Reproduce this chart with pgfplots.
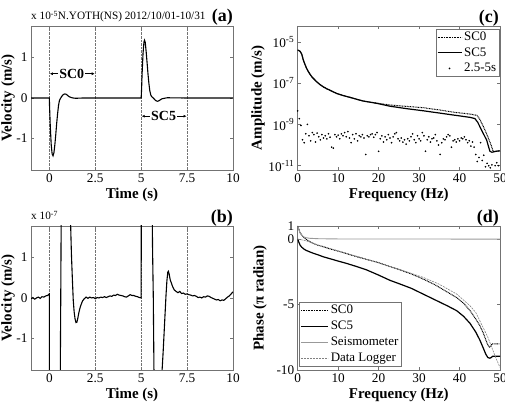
\documentclass[border=0pt]{standalone}
\usepackage{fontspec}
\setmainfont{Liberation Serif}
\usepackage{pgfplots}
\pgfplotsset{compat=1.18}
\usepackage{pgfplotstable}
\usetikzlibrary{arrows.meta}

% Velocity record, in units of 1e-7 m/s
\pgfplotstableread{
t v
-1.0 -0.02
-0.9 0.01
-0.8 -0.03
-0.7 0.0
-0.6 0.02
-0.5 -0.01
-0.4 0.03
-0.3 0.02
-0.2 0.05
-0.1 0.06
-0.05 0.08
0.0 0.1
0.01 -20
0.05 -70
0.1 -115
0.15 -138
0.2 -143
0.25 -135
0.3 -115
0.35 -90
0.4 -62
0.45 -38
0.5 -18
0.55 -6
0.6 -1.5
0.62 0
0.65 2.5
0.7 5.5
0.75 8
0.8 9.5
0.85 10
0.9 9.5
0.95 8
1.0 6
1.05 4.2
1.1 2.8
1.16 1.78
1.2 1.1
1.25 0.5
1.3 -0.05
1.35 -0.35
1.4 -0.52
1.45 -0.61
1.5 -0.6
1.55 -0.5
1.6 -0.38
1.65 -0.28
1.7 -0.2
1.8 -0.08
1.9 -0.02
2.0 0.02
2.1 -0.01
2.2 0.02
2.3 0.0
2.4 0.01
2.5 -0.02
2.6 0.01
2.7 0.0
2.8 0.02
2.9 0.01
3.0 0.03
3.1 0.01
3.2 0.03
3.3 0.05
3.4 0.04
3.5 0.07
3.6 0.06
3.7 0.09
3.8 0.07
3.9 0.06
4.0 0.05
4.1 0.03
4.2 0.02
4.3 0.05
4.4 0.08
4.5 0.06
4.6 0.06
4.7 0.04
4.8 0.03
4.9 0.01
5.0 0.0
5.02 20
5.05 60
5.1 110
5.15 138
5.18 143
5.22 138
5.27 115
5.32 88
5.37 60
5.42 36
5.47 18
5.52 8
5.57 3.5
5.62 1.2
5.66 0
5.7 -2
5.75 -4.5
5.8 -6.5
5.85 -7.8
5.9 -8
5.95 -7.2
6.0 -5.8
6.05 -4.2
6.1 -2.7
6.14 -1.78
6.2 -1.3
6.25 -0.85
6.3 -0.4
6.35 0.05
6.4 0.42
6.45 0.64
6.48 0.66
6.52 0.6
6.58 0.45
6.65 0.36
6.72 0.27
6.8 0.2
6.9 0.16
7.0 0.13
7.1 0.16
7.2 0.11
7.3 0.12
7.4 0.09
7.5 0.1
7.6 0.08
7.7 0.07
7.8 0.05
7.9 0.06
8.0 0.04
8.1 0.01
8.2 0.02
8.3 0.0
8.4 0.03
8.5 0.02
8.6 0.05
8.7 0.04
8.8 0.01
8.9 -0.01
9.0 -0.03
9.1 -0.05
9.2 -0.04
9.3 -0.07
9.4 -0.05
9.5 -0.06
9.6 -0.02
9.7 0.02
9.8 0.05
9.9 0.1
10.0 0.15
}\velo

% Amplitude spectra (m/s)
\pgfplotstableread{
f a
0 3.98e-6
0.6 3.47e-6
1.0 2.51e-6
1.4 1.29e-6
1.8 7.94e-7
2.2 5.13e-7
2.6 3.7e-7
3.0 2.75e-7
3.5 2.0e-7
4.0 1.58e-7
4.7 1.15e-7
5.5 8.5e-8
6.3 6.61e-8
7.2 5.3e-8
8.0 4.47e-8
9.6 3.16e-8
11.2 2.5e-8
12.9 2.04e-8
14.5 1.66e-8
16.2 1.35e-8
17.8 1.2e-8
19.5 1.07e-8
22.8 8.71e-9
27 7.41e-9
31 6.46e-9
35 5.01e-9
39 3.80e-9
42.6 3.16e-9
44.3 2.75e-9
45.0 1.78e-9
46.0 7.08e-10
47.0 2.51e-10
47.8 1.0e-10
48.3 5.01e-11
49.0 5.0e-11
50.0 5.25e-11
}\ampA

\pgfplotstableread{
f a
0 3.98e-6
0.6 3.47e-6
1.0 2.51e-6
1.4 1.29e-6
1.8 7.94e-7
2.2 5.13e-7
2.6 3.7e-7
3.0 2.75e-7
3.5 2.0e-7
4.0 1.58e-7
4.7 1.15e-7
5.5 8.5e-8
6.3 6.61e-8
7.2 5.3e-8
8.0 4.47e-8
9.6 3.16e-8
11.2 2.5e-8
12.9 2.04e-8
14.5 1.66e-8
16.2 1.35e-8
17.8 1.2e-8
19.5 1.05e-8
22.8 7.59e-9
27 5.75e-9
31 4.57e-9
35 3.55e-9
39 2.75e-9
42.6 2.19e-9
43.8 1.91e-9
44.5 1.26e-9
45.5 5.01e-10
46.7 1.74e-10
47.5 5.01e-11
48.0 4.47e-11
49.0 5.0e-11
50.0 5.25e-11
}\ampB

% Noise window 2.5-5 s
\pgfplotstableread{
f a
0.0 4.5e-9
0.4 1.9e-9
0.8 8.9e-10
1.2 1.8e-10
1.6 1.3e-10
2.0 3.5e-10
2.4 1.0e-9
2.8 2.8e-10
3.2 1.6e-10
3.6 4.0e-10
4.0 3.2e-10
4.4 1.4e-10
4.8 3.8e-10
5.2 2.5e-10
5.6 1.8e-10
6.0 3.2e-10
6.4 2.2e-10
6.8 2.8e-10
7.2 2.0e-10
7.6 3.5e-10
8.0 2.4e-10
8.4 7.9e-11
8.8 7.1e-11
9.2 3.2e-10
9.6 2.5e-10
10.0 3.0e-10
10.4 2.0e-10
10.8 3.5e-10
11.2 2.8e-10
11.6 4.0e-10
12.0 2.5e-10
12.4 4.5e-10
12.8 2.2e-10
13.2 1.3e-10
13.6 3.2e-10
14.0 2.0e-10
14.4 3.5e-10
14.8 1.6e-10
15.2 2.8e-10
15.6 2.5e-10
16.0 3.2e-10
16.4 2.2e-10
16.8 3.5e-11
17.2 2.8e-10
17.6 2.5e-10
18.0 3.2e-10
18.4 3.5e-10
18.8 2.4e-10
19.2 3.2e-10
19.6 4.0e-10
20.0 5.0e-11
20.4 2.0e-10
20.8 2.8e-10
21.2 1.4e-10
21.6 2.5e-10
22.0 1.8e-10
22.4 3.2e-10
22.8 2.2e-10
23.2 1.3e-10
23.6 2.5e-10
24.0 3.5e-10
24.4 4.0e-10
24.8 2.0e-10
25.2 1.6e-10
25.6 2.2e-10
26.0 1.4e-10
26.4 1.8e-10
26.8 1.1e-10
27.2 2.0e-10
27.6 1.6e-10
28.0 2.5e-10
28.4 3.5e-10
28.8 1.8e-10
29.2 1.3e-10
29.6 2.8e-10
30.0 2.0e-10
30.4 1.6e-10
30.8 4.0e-10
31.2 2.8e-10
31.6 5.0e-11
32.0 1.8e-10
32.4 2.5e-10
32.8 1.4e-10
33.2 2.0e-10
33.6 2.2e-10
34.0 3.2e-10
34.4 1.6e-10
34.8 1.0e-10
35.2 3.5e-11
35.6 1.3e-10
36.0 2.0e-10
36.4 1.8e-10
36.8 2.5e-10
37.2 3.2e-10
37.6 2.8e-10
38.0 7.9e-11
38.4 1.6e-10
38.8 1.8e-10
39.2 1.4e-10
39.6 2.0e-10
40.0 1.6e-10
40.4 2.2e-10
40.8 2.0e-10
41.2 2.5e-10
41.6 1.8e-10
42.0 1.3e-10
42.4 1.6e-10
42.8 8.9e-11
43.2 1.4e-10
43.6 7.9e-11
44.0 3.5e-11
44.4 1.6e-11
44.8 2.5e-11
45.2 1.3e-10
45.6 1.8e-11
46.0 3.2e-11
46.4 8.9e-12
46.8 1.3e-11
47.2 1.0e-11
47.6 7.9e-12
48.0 1.1e-11
48.4 5.0e-12
48.8 1.0e-11
49.2 1.4e-11
49.6 1.0e-11
}\noise

% Phase spectra (pi radian)
\pgfplotstableread{
f p
0 1.0
0.3 0.75
0.6 0.5
1.0 0.3
1.5 0.12
2 0.0
3 -0.2
4 -0.35
5 -0.47
6.3 -0.58
8 -0.75
10 -0.92
12 -1.1
14.6 -1.35
17 -1.55
20 -1.8
22.8 -2.1
25 -2.32
28 -2.65
31 -3.05
34 -3.5
37 -4.05
39.3 -4.47
41 -4.9
42.6 -5.47
44 -6.1
45 -6.6
45.9 -7.2
46.5 -7.7
47.0 -8.1
47.4 -8.25
47.7 -8.2
48.0 -8.0
49 -8.0
50 -8.0
}\phA

\pgfplotstableread{
f p
0 0.0
0.3 -0.25
0.6 -0.47
1.0 -0.62
1.5 -0.75
2 -0.85
3 -0.98
4 -1.1
5 -1.2
6.3 -1.35
8 -1.5
10 -1.68
12 -1.85
14.6 -2.1
17 -2.35
20 -2.75
22.8 -3.15
25 -3.4
28 -3.75
31 -4.2
34 -4.65
37 -5.1
39.3 -5.47
41 -5.9
42.6 -6.44
44 -7.1
45 -7.7
45.9 -8.35
46.5 -8.8
47.0 -9.05
47.5 -9.1
47.8 -9.05
48.2 -8.95
49 -8.95
50 -8.95
}\phB

\pgfplotstableread{
f p
0 1.0
0.3 0.7
0.6 0.45
1 0.28
1.5 0.17
2 0.11
3 0.06
5 0.03
10 0.01
50 0.0
}\phSeis

\pgfplotstableread{
f p
0 0
2 -0.12
5 -0.45
10 -0.9
15 -1.35
20 -1.8
25 -2.3
31 -2.92
35 -3.45
39.3 -4.2
42.6 -5.1
44 -5.6
45.9 -6.8
47 -7.5
48 -8.3
49 -9.1
50 -9.8
}\phLog

\pgfplotsset{
  panel/.style={
    width=202bp, height=144bp, scale only axis, anchor=south west,
    axis line style={black!55, line width=0.5bp},
    every tick/.style={black!55, line width=0.5bp},
    major tick length=3bp,
    tick align=inside,
    minor tick num=0,
    ticklabel style={font=\fontsize{13.3}{14}\selectfont, black},
    xlabel style={font=\bfseries\fontsize{15}{16}\selectfont,
      at={(axis description cs:0.5,-0.174)}, anchor=center},
    ylabel style={font=\bfseries\fontsize{15}{16}\selectfont},
  },
  vgrid/.style={
    xmajorgrids,
    grid style={densely dotted, black!55, line width=0.5bp},
  },
  sczero/.style={black, line width=1bp, dash pattern=on 0.9bp off 0.7bp},
  scfive/.style={black, line width=1.2bp},
}
\tikzset{
  tag/.style={anchor=east, inner sep=0, font=\bfseries\fontsize{18}{18}\selectfont},
  sc arrow/.style={-{Latex[length=3bp,width=3bp]}, line width=0.6bp},
  sc label/.style={font=\bfseries\fontsize{14}{14}\selectfont, inner sep=0},
  stamp/.style={anchor=base west, inner sep=0, font=\fontsize{11.3}{11.3}\selectfont},
}

\begin{document}
\begin{tikzpicture}
\useasboundingbox (0,0) rectangle (505bp,406bp);

% (a) full-scale velocity
\begin{axis}[panel, vgrid, at={(31bp,236bp)},
  xmin=-1, xmax=10, ymin=-1.78, ymax=1.78,
  xtick={0,2.5,5,7.5,10}, xticklabels={0,2.5,5,7.5,10},
  ytick={-1,0,1}, yticklabels={-1,0,1},
  xlabel={Time (s)}, ylabel={Velocity (m/s)},
  ylabel style={at={(axis description cs:-0.113,0.5)}, anchor=center},
]
\addplot[black, line width=1.1bp] table[x=t, y expr=\thisrow{v}/100] {\velo};
\node[sc label] at (axis cs:1.22,0.6) {SC0};
\draw[sc arrow] (axis cs:0.48,0.6) -- (axis cs:0.03,0.6);
\draw[sc arrow] (axis cs:1.96,0.6) -- (axis cs:2.47,0.6);
\node[sc label] at (axis cs:6.22,-0.45) {SC5};
\draw[sc arrow] (axis cs:5.48,-0.45) -- (axis cs:5.03,-0.45);
\draw[sc arrow] (axis cs:6.96,-0.45) -- (axis cs:7.47,-0.45);
\end{axis}
\node[stamp] at (31bp,386bp) {x 10\textsuperscript{-5}N.YOTH(NS) 2012/10/01-10/31};
\node[tag] at (233bp,389bp) {(a)};

% (b) magnified velocity
\begin{axis}[panel, vgrid, at={(31bp,36bp)},
  xmin=-1, xmax=10, ymin=-1.78, ymax=1.78,
  xtick={0,2.5,5,7.5,10}, xticklabels={0,2.5,5,7.5,10},
  ytick={-1,0,1}, yticklabels={-1,0,1},
  xlabel={Time (s)}, ylabel={Velocity (m/s)},
  ylabel style={at={(axis description cs:-0.113,0.5)}, anchor=center},
]
\addplot[black, line width=1.1bp] table[x=t, y=v] {\velo};
\end{axis}
\node[stamp] at (31bp,186bp) {x 10\textsuperscript{-7}};
\node[tag] at (233bp,188bp) {(b)};

% (c) amplitude spectra
\begin{axis}[panel, at={(297.7bp,236bp)}, width=202.3bp,
  ymode=log, xmin=0, xmax=50, ymin=6.2e-12, ymax=5.8e-5,
  xtick={0,10,20,30,40,50}, xticklabels={0,10,20,30,40,50},
  ytick={1e-11,1e-9,1e-7,1e-5},
  yticklabels={10\textsuperscript{-11},10\textsuperscript{-9},10\textsuperscript{-7},10\textsuperscript{-5}},
  yminorticks=false,
  xlabel={Frequency (Hz)}, ylabel={Amplitude (m/s)},
  ylabel style={at={(axis description cs:-0.196,0.5)}, anchor=center},
  legend style={at={(0.997,0.979)}, anchor=north east, draw=black!55, line width=0.5bp,
    font=\fontsize{13}{13}\selectfont, inner sep=1bp, row sep=1.5bp,
    cells={anchor=west}},
  legend image code/.code={\draw[#1] (0bp,0bp) -- (24bp,0bp);},
]
\addplot[sczero] table[x=f, y=a] {\ampA};
\addlegendentry{SC0}
\addplot[scfive] table[x=f, y=a] {\ampB};
\addlegendentry{SC5}
\addplot[only marks, mark=*, mark size=0.6bp, black,
  legend image code/.code={\fill[black] (12bp,0bp) circle (0.6bp);}] table[x=f, y=a] {\noise};
\addlegendentry{2.5-5s}
\end{axis}
\node[tag] at (499bp,388bp) {(c)};

% (d) phase spectra
\begin{axis}[panel, at={(297.7bp,36bp)}, width=202.3bp,
  xmin=0, xmax=50, ymin=-10, ymax=1,
  xtick={0,10,20,30,40,50}, xticklabels={0,10,20,30,40,50},
  ytick={-10,-5,0,1}, yticklabels={-10,-5,0,1},
  xlabel={Frequency (Hz)}, ylabel={Phase (π radian)},
  ylabel style={at={(axis description cs:-0.186,0.5)}, anchor=center},
  legend style={at={(0.008,0.023)}, anchor=south west, draw=black!55, line width=0.5bp,
    font=\fontsize{13}{13}\selectfont, inner sep=1bp, row sep=2bp,
    cells={anchor=west}},
  legend image code/.code={\draw[#1] (0bp,0bp) -- (27bp,0bp);},
]
\addplot[sczero] table[x=f, y=p] {\phA};
\addlegendentry{SC0}
\addplot[scfive] table[x=f, y=p] {\phB};
\addlegendentry{SC5}
\addplot[black!40, line width=0.9bp] table[x=f, y=p] {\phSeis};
\addlegendentry{Seismometer}
\addplot[black!50, line width=0.6bp, dash pattern=on 2bp off 1bp] table[x=f, y=p] {\phLog};
\addlegendentry{Data Logger}
\end{axis}
\node[tag] at (499bp,188bp) {(d)};
\end{tikzpicture}
\end{document}
